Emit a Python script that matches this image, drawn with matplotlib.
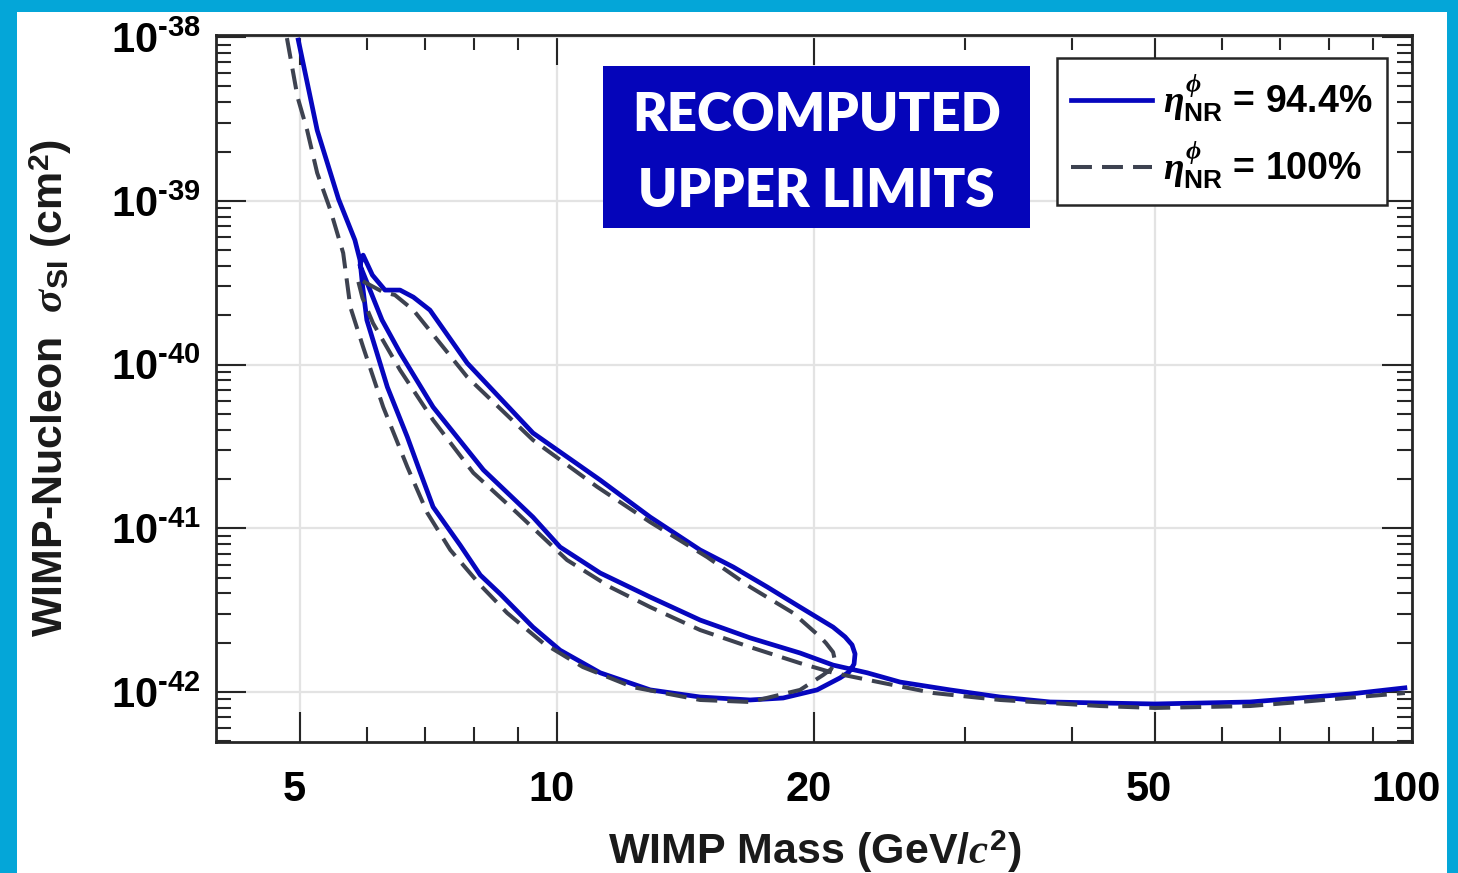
import numpy as np
import matplotlib
matplotlib.use("Agg")
import matplotlib.pyplot as plt
from matplotlib.patches import Rectangle
from matplotlib.ticker import FixedLocator, FixedFormatter, LogLocator, NullFormatter
from matplotlib.transforms import ScaledTranslation

plt.rcParams['font.family'] = ['Liberation Sans', 'DejaVu Sans']
plt.rcParams['font.weight'] = 'bold'
plt.rcParams['mathtext.fontset'] = 'custom'
plt.rcParams['mathtext.rm'] = 'Liberation Sans:bold'
plt.rcParams['mathtext.bf'] = 'Liberation Sans:bold'
plt.rcParams['mathtext.sf'] = 'Liberation Sans:bold'
plt.rcParams['mathtext.it'] = 'Liberation Serif:italic'

# eta_NR = 94.4% (solid) - one continuous traced line incl. the loop
solid_mass = [4.98, 5.24, 5.55, 5.80, 5.88, 5.92, 5.99, 6.33, 6.68, 6.90, 7.16, 7.70, 8.13, 8.58,
              9.37, 10.08, 11.23, 12.85, 14.70, 16.82, 18.38, 20.14, 21.43, 21.95, 22.25,
              22.31, 22.13, 21.72, 21.03, 19.24, 17.61, 16.07, 14.70, 12.85, 11.23, 9.37,
              7.85, 7.10, 6.79, 6.55, 6.29, 6.08, 5.93, 5.88, 6.24, 6.55, 7.16, 8.20, 9.37,
              10.08, 11.23, 12.85, 14.70, 16.82, 19.24, 21.03, 23.05, 25.19, 28.81, 32.97,
              37.73, 43.17, 50.05, 64.65, 73.96, 84.63, 98.1]
solid_sigma = [9.59e-39, 2.70e-39, 1.025e-39, 5.76e-40, 4.35e-40, 3.06e-40, 1.87e-40,
               7.29e-41, 3.61e-41, 2.27e-41, 1.35e-41, 7.90e-42, 5.18e-42, 3.97e-42,
               2.49e-42, 1.80e-42, 1.31e-42, 1.03e-42, 9.32e-43, 8.94e-43, 9.19e-43,
               1.03e-42, 1.22e-42, 1.325e-42, 1.48e-42,
               1.71e-42, 1.94e-42, 2.17e-42, 2.49e-42, 3.30e-42, 4.38e-42, 5.80e-42,
               7.37e-42, 1.17e-41, 1.97e-41, 3.82e-41,
               1.02e-40, 2.15e-40, 2.58e-40, 2.85e-40, 2.85e-40, 3.52e-40, 4.66e-40,
               4.05e-40, 1.87e-40, 1.18e-40, 5.50e-41, 2.27e-41, 1.17e-41,
               7.68e-42, 5.33e-42, 3.80e-42, 2.75e-42, 2.14e-42, 1.73e-42, 1.46e-42,
               1.31e-42, 1.15e-42, 1.03e-42, 9.32e-43,
               8.69e-43, 8.57e-43, 8.45e-43, 8.69e-43, 9.19e-43, 9.72e-43, 1.06e-42]

# eta_NR = 100% (dashed)
dashed_mass = [4.83, 4.97, 5.10, 5.24, 5.43, 5.62, 5.73, 5.93, 6.26, 6.68, 7.05, 7.50,
               8.13, 8.74, 9.63, 10.72, 12.27, 14.70, 16.82, 19.24, 20.47, 20.92, 21.14,
               21.03, 20.63, 20.31, 18.88, 16.82, 14.98, 12.85, 11.14, 9.37, 7.85, 6.79,
               6.46, 6.26, 6.04, 5.84, 5.92, 6.09, 6.55, 7.16, 7.98, 8.98, 10.27,
               11.53, 12.85, 14.70, 16.82, 19.24, 21.03, 24.06, 27.54, 32.97, 43.17,
               50.05, 64.65, 73.96, 98.1]
dashed_sigma = [9.86e-39, 4.30e-39, 2.70e-39, 1.48e-39, 8.78e-40, 4.80e-40, 2.24e-40,
                1.28e-40, 5.50e-41, 2.37e-41, 1.24e-41, 7.37e-42,
                4.50e-42, 3.04e-42, 1.99e-42, 1.42e-42, 1.07e-42, 8.94e-43, 8.69e-43,
                1.03e-42, 1.27e-42, 1.38e-42, 1.55e-42,
                1.75e-42, 1.99e-42, 2.17e-42, 3.04e-42, 4.38e-42, 6.67e-42, 1.09e-41,
                1.79e-41, 3.46e-41, 8.39e-41, 2.15e-40,
                2.66e-40, 2.77e-40, 3.06e-40, 3.37e-40, 2.55e-40, 1.79e-40, 9.26e-41,
                4.58e-41, 2.18e-41, 1.24e-41, 6.40e-42,
                4.38e-42, 3.30e-42, 2.39e-42, 1.88e-42, 1.50e-42, 1.31e-42, 1.135e-42,
                9.86e-43, 8.94e-43, 8.21e-43,
                7.99e-43, 8.21e-43, 8.69e-43, 9.86e-43]

x_major = [5, 10, 20, 50, 100]
x_minor = [6, 7, 8, 9, 30, 40, 60, 70, 80, 90]
x_labels = ['5', '10', '20', '50', '100']
y_major = [1e-42, 1e-41, 1e-40, 1e-39, 1e-38]
y_labels = [r'$\mathrm{10^{\text{-}42}}$', r'$\mathrm{10^{\text{-}41}}$',
            r'$\mathrm{10^{\text{-}40}}$', r'$\mathrm{10^{\text{-}39}}$',
            r'$\mathrm{10^{\text{-}38}}$']
labels = [r'$\eta^{\phi}_{\mathrm{NR}}$ = 94.4%', r'$\eta^{\phi}_{\mathrm{NR}}$ = 100%']

blue = '#0606BE'
grey = '#3d4250'
dark = '#262626'

fig = plt.figure(figsize=(14.58, 8.73), dpi=100)
fig.patch.set_facecolor('#04A6D8')
fig.add_artist(Rectangle((0.01166, 0.0), 0.9808, 0.98625, transform=fig.transFigure,
                         facecolor='white', edgecolor='none', zorder=-10))

ax = fig.add_axes([0.14815, 0.15006, 0.82030, 0.80985])
ax.set_xscale('log')
ax.set_yscale('log')

ax.plot(solid_mass, solid_sigma, color=blue, lw=3.4, solid_joinstyle='round',
        label=labels[0], zorder=3)
ax.plot(dashed_mass, dashed_sigma, color=grey, lw=2.9, dashes=(5.2, 2.5),
        label=labels[1], zorder=4)

ax.set_xlim(3.99, 100)
ax.set_ylim(4.95e-43, 1.03e-38)

ax.xaxis.set_major_locator(FixedLocator(x_major))
ax.xaxis.set_major_formatter(FixedFormatter(x_labels))
ax.xaxis.set_minor_locator(FixedLocator(x_minor))
ax.xaxis.set_minor_formatter(NullFormatter())
ax.yaxis.set_major_locator(FixedLocator(y_major))
ax.yaxis.set_major_formatter(FixedFormatter(y_labels))
ax.yaxis.set_minor_locator(LogLocator(base=10, subs=np.arange(2, 10), numticks=30))
ax.yaxis.set_minor_formatter(NullFormatter())

ax.grid(True, which='major', color='#e3e3e3', lw=1.6)
ax.set_axisbelow(True)
for s in ax.spines.values():
    s.set_color(dark)
    s.set_linewidth(2.0)

ax.tick_params(which='both', direction='in', top=True, right=True, color=dark,
               width=1.5, labelsize=30)
ax.tick_params(which='major', length=21.6)
ax.tick_params(which='minor', length=10.8)
ax.tick_params(axis='x', which='major', pad=20)
ax.tick_params(axis='y', which='major', pad=11)

shift = ScaledTranslation(-6 / 100, 0, fig.dpi_scale_trans)
for lab in ax.get_xticklabels():
    lab.set_transform(lab.get_transform() + shift)

leg = ax.legend(loc='upper right', bbox_to_anchor=(0.9513, 0.93356),
                bbox_transform=fig.transFigure, borderaxespad=0, fancybox=False,
                framealpha=1, edgecolor=dark, prop={'size': 27, 'weight': 'bold'},
                handlelength=2.15, handletextpad=0.3, labelspacing=0.42, borderpad=0.38)
leg.get_frame().set_linewidth(1.8)

# annotation box
fig.add_artist(Rectangle((0.41358, 0.73883), 0.29287, 0.18557, transform=fig.transFigure,
                         facecolor='#0505BA', edgecolor='none', zorder=5))
fig.text(0.56001, 0.8672, 'RECOMPUTED', color='white', family='Lato', weight='heavy',
         fontsize=38, ha='center', va='center', zorder=6)
fig.text(0.56001, 0.7801, 'UPPER LIMITS', color='white', family='Lato', weight='heavy',
         fontsize=38, ha='center', va='center', zorder=6)

fig.text(0.5590, 0.02405, r'WIMP Mass (GeV/$c^{2}$)', fontsize=31, ha='center',
         va='center', color='#1a1a1a')
fig.text(0.0350, 0.55556, r'WIMP-Nucleon  $\sigma_{\mathrm{SI}}$ (cm$^{2}$)', fontsize=31,
         rotation=90, ha='center', va='center', color='#1a1a1a')

fig.savefig('out.png', dpi=100, facecolor=fig.get_facecolor())
